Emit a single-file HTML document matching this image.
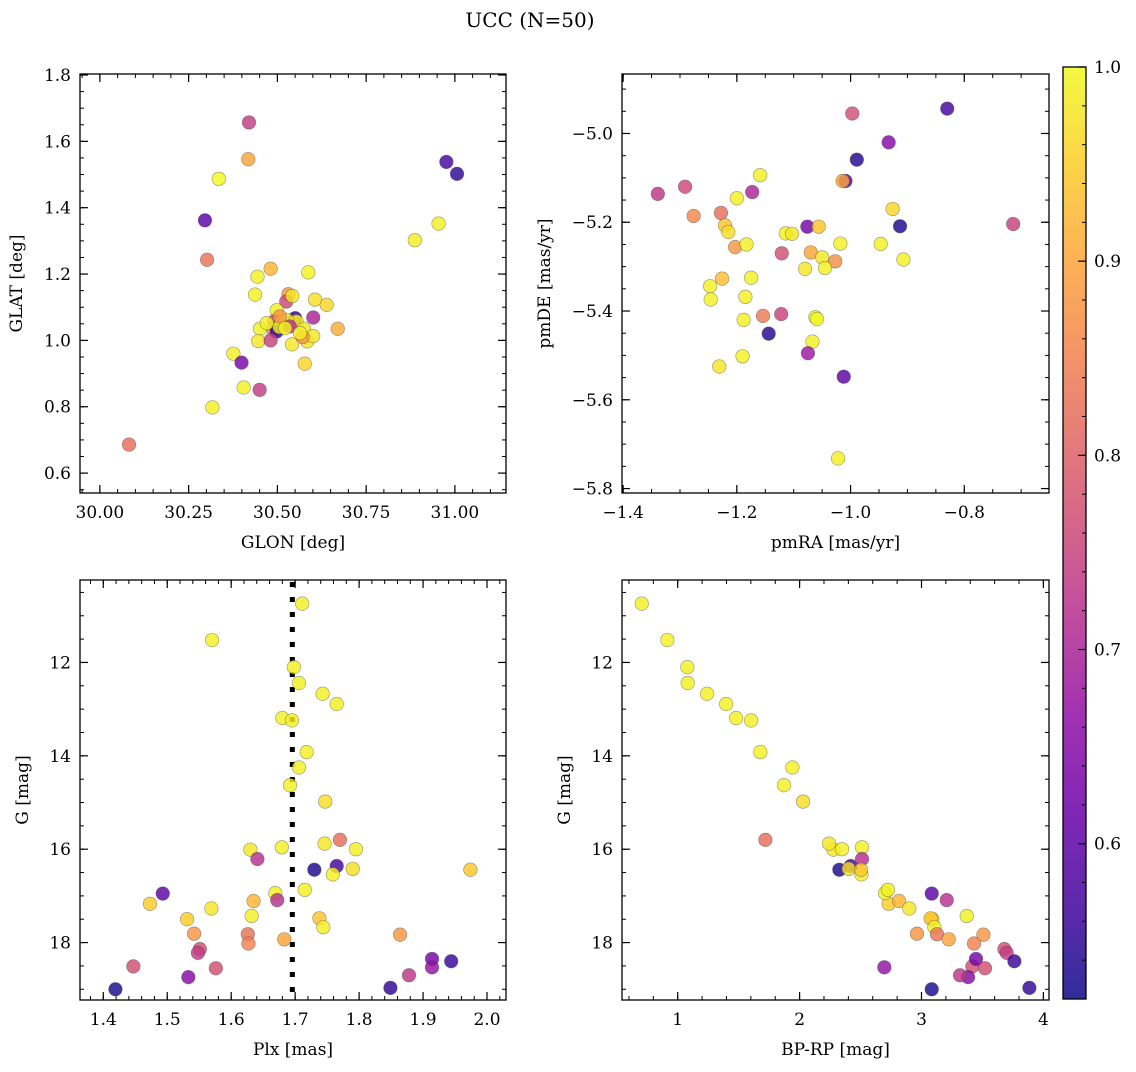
<!DOCTYPE html>
<html><head><meta charset="utf-8"><style>
body{margin:0;background:#fff}
svg text{font-family:"DejaVu Serif","Liberation Serif",serif;fill:#000}
</style></head><body>
<svg id="fig" width="1136" height="1067" viewBox="0 0 1136 1067" xmlns="http://www.w3.org/2000/svg">
<rect width="1136" height="1067" fill="#fff"/>
<text x="530" y="27" font-size="20" text-anchor="middle">UCC (N=50)</text>
</svg>
<script>
// ---- Panel 1: GLON / GLAT ----
const glon = [30.420,30.418,30.335,30.296,30.302,30.976,31.006,30.954,30.887,30.481,30.444,30.587,30.437,30.531,30.525,30.542,30.606,30.639,30.498,30.601,30.550,30.550,30.491,30.511,30.554,30.451,30.489,30.498,30.506,30.575,30.670,30.446,30.481,30.541,30.584,30.601,30.571,30.376,30.399,30.577,30.405,30.450,30.317,30.082,30.526,30.470,30.535,30.564,30.507,30.522];
const glat = [1.657,1.546,1.487,1.362,1.243,1.538,1.502,1.352,1.302,1.216,1.192,1.205,1.138,1.139,1.117,1.134,1.123,1.107,1.091,1.069,1.067,1.057,1.057,1.054,1.057,1.035,1.032,1.027,1.040,1.035,1.035,0.998,1.000,0.988,0.997,1.013,1.010,0.960,0.933,0.930,0.858,0.851,0.798,0.686,1.062,1.052,1.042,1.022,1.072,1.037];
const probP1 = [0.74,0.90,1.0,0.60,0.83,0.57,0.55,0.99,0.99,0.92,0.99,0.99,0.99,0.88,0.76,0.98,0.97,0.96,0.99,0.70,0.54,0.75,0.76,0.99,0.99,0.99,0.86,0.55,0.99,0.98,0.91,0.98,0.75,0.98,0.98,0.98,0.88,0.99,0.63,0.96,0.99,0.74,0.99,0.82,0.99,0.99,0.72,0.99,0.88,0.99];
// ---- Panel 2: pmRA / pmDE ----
const pmra = [-0.830,-0.997,-0.933,-0.989,-1.009,-1.014,-1.159,-1.173,-1.339,-1.291,-1.200,-0.926,-1.276,-1.228,-1.221,-1.215,-1.076,-1.056,-0.913,-0.714,-1.114,-1.103,-1.203,-1.183,-1.018,-0.947,-1.121,-1.070,-1.050,-1.027,-0.907,-1.080,-1.045,-1.226,-1.175,-1.247,-1.246,-1.185,-1.154,-1.122,-1.188,-1.062,-1.059,-1.144,-1.067,-1.075,-1.190,-1.231,-1.012,-1.022];
const pmde = [-4.944,-4.955,-5.020,-5.059,-5.107,-5.107,-5.094,-5.132,-5.136,-5.120,-5.146,-5.170,-5.186,-5.179,-5.207,-5.222,-5.210,-5.210,-5.209,-5.204,-5.225,-5.226,-5.256,-5.250,-5.248,-5.249,-5.270,-5.268,-5.279,-5.288,-5.284,-5.305,-5.303,-5.327,-5.325,-5.344,-5.374,-5.368,-5.411,-5.407,-5.420,-5.414,-5.418,-5.451,-5.469,-5.495,-5.502,-5.525,-5.548,-5.732];
const probP2 = [0.57,0.77,0.65,0.54,0.58,0.90,0.99,0.70,0.73,0.76,0.99,0.96,0.86,0.82,0.94,0.97,0.63,0.94,0.53,0.75,0.99,0.98,0.88,0.99,0.99,0.99,0.77,0.90,0.98,0.87,0.99,0.98,0.99,0.93,0.99,0.99,0.99,0.99,0.84,0.75,0.99,0.99,1.0,0.54,0.99,0.68,0.99,0.98,0.60,0.99];
// ---- Panels 3 & 4: per-star Plx, G, BP-RP ----
const plx = [1.711,1.570,1.698,1.706,1.743,1.765,1.680,1.695,1.718,1.706,1.692,1.747,1.770,1.630,1.679,1.746,1.795,1.641,1.730,1.765,1.759,1.790,1.974,1.493,1.473,1.669,1.672,1.635,1.715,1.569,1.531,1.632,1.738,1.744,1.542,1.626,1.627,1.683,1.864,1.551,1.548,1.447,1.576,1.533,1.419,1.849,1.878,1.914,1.914,1.944];
const gmag = [10.74,11.52,12.10,12.44,12.67,12.89,13.19,13.24,13.92,14.25,14.63,14.98,15.80,16.01,15.96,15.88,16.00,16.21,16.44,16.36,16.54,16.42,16.44,16.95,17.17,16.94,17.09,17.11,16.87,17.27,17.50,17.43,17.48,17.67,17.81,17.82,18.02,17.93,17.83,18.14,18.22,18.51,18.55,18.74,19.00,18.97,18.70,18.35,18.53,18.40];
const bprp = [0.705,0.915,1.079,1.082,1.241,1.397,1.479,1.602,1.678,1.941,1.872,2.028,1.719,2.277,2.512,2.241,2.348,2.512,2.326,2.419,2.507,2.403,2.504,3.084,2.731,2.701,3.207,2.816,2.725,2.900,3.089,3.371,3.075,3.106,2.963,3.127,3.431,3.223,3.508,3.680,3.699,3.417,3.521,3.382,3.084,3.885,3.316,3.447,2.695,3.762];
const probStar = [0.99,0.99,0.99,0.99,0.99,0.99,0.99,0.99,0.99,0.99,0.99,0.97,0.82,0.98,0.99,0.98,0.99,0.72,0.53,0.57,0.99,0.97,0.94,0.60,0.95,0.99,0.72,0.92,0.99,0.98,0.95,0.99,0.94,0.99,0.88,0.83,0.85,0.90,0.88,0.77,0.74,0.77,0.77,0.65,0.53,0.55,0.73,0.63,0.67,0.56];
const plxRef = 1.6956;
// ---- Colorbar ----
const cbTicks = [0.6,0.7,0.8,0.9,1.0];
const cbMin = 0.52, cbMax = 1.0;

const NS = "http://www.w3.org/2000/svg";
const svg = document.getElementById('fig');
function mk(tag, attrs, parent){ const e=document.createElementNS(NS,tag); for(const k in attrs) e.setAttribute(k,attrs[k]); (parent||svg).appendChild(e); return e; }

const plasma = [[13,8,135],[65,4,157],[106,0,168],[143,13,164],[177,42,144],[204,71,120],[225,100,98],[242,132,75],[252,166,54],[252,206,37],[240,249,33]];
function cmap(t){ t=Math.max(0,Math.min(1,t)); const f=t*10, i=Math.min(9,Math.floor(f)), u=f-i; const a=plasma[i], b=plasma[i+1]; return 'rgb('+a.map((v,k)=>Math.round(v+(b[k]-v)*u)).join(',')+')'; }
function fmt(v,d){ const s=Math.abs(v).toFixed(d); return (v<0?'\u2212':'')+s; }

function panel(cfg){
  const g = mk('g',{});
  
  
  const {x0,x1,y0,y1,xmin,xmax,ymin,ymax,inv} = cfg;
  const sx = v => x0 + (v-xmin)/(xmax-xmin)*(x1-x0);
  const sy = inv ? (v => y0 + (v-ymin)/(ymax-ymin)*(y1-y0)) : (v => y1 - (v-ymin)/(ymax-ymin)*(y1-y0));
  for(let v=Math.ceil(xmin/cfg.xminor-1e-6)*cfg.xminor; v<=xmax; v+=cfg.xminor){ const X=sx(v);
    mk('line',{x1:X,y1:y1,x2:X,y2:y1-4,stroke:'#000','stroke-width':1},g); mk('line',{x1:X,y1:y0,x2:X,y2:y0+4,stroke:'#000','stroke-width':1},g);}
  for(let v=Math.ceil(ymin/cfg.yminor-1e-6)*cfg.yminor; v<=ymax; v+=cfg.yminor){ const Y=sy(v);
    mk('line',{x1:x0,y1:Y,x2:x0+4,y2:Y,stroke:'#000','stroke-width':1},g); mk('line',{x1:x1,y1:Y,x2:x1-4,y2:Y,stroke:'#000','stroke-width':1},g);}
  cfg.xticks.forEach(v=>{ const X=sx(v);
    mk('line',{x1:X,y1:y1,x2:X,y2:y1-8,stroke:'#000','stroke-width':1.2},g); mk('line',{x1:X,y1:y0,x2:X,y2:y0+8,stroke:'#000','stroke-width':1.2},g);
    const t=mk('text',{x:X,y:y1+25,'font-size':17,'text-anchor':'middle'},g); t.textContent=fmt(v,cfg.xdec);
    
     });
  cfg.yticks.forEach(v=>{ const Y=sy(v);
    mk('line',{x1:x0,y1:Y,x2:x0+8,y2:Y,stroke:'#000','stroke-width':1.2},g); mk('line',{x1:x1,y1:Y,x2:x1-8,y2:Y,stroke:'#000','stroke-width':1.2},g);
    const t=mk('text',{x:x0-9,y:Y+6,'font-size':17,'text-anchor':'end'},g); t.textContent=fmt(v,cfg.ydec);
    
     });
  if(cfg.vline!==undefined){ const X=sx(cfg.vline);
    const l=mk('line',{x1:X,y1:y0+2,x2:X,y2:y1,stroke:'#000','stroke-width':5,'stroke-dasharray':'5 10'},g);
    
     }
  cfg.xs.forEach((xv,i)=>{
    const c=mk('circle',{cx:sx(xv),cy:sy(cfg.ys[i]),r:6.8,fill:cmap((cfg.p[i]-cbMin)/(cbMax-cbMin)),'fill-opacity':0.82,stroke:'rgba(70,70,70,0.55)','stroke-width':0.6},g);
    
     });
  const b=mk('rect',{x:x0,y:y0,width:x1-x0,height:y1-y0,fill:'none',stroke:'#000','stroke-width':1.3},g);
  
  
  const xl=mk('text',{x:(x0+x1)/2,y:y1+55,'font-size':17,'text-anchor':'middle'},g); xl.textContent=cfg.xlabel;
  
  
  const yx=cfg.ylx, yc=(y0+y1)/2;
  const yl=mk('text',{x:yx,y:yc,'font-size':17,'text-anchor':'middle',transform:'rotate(-90 '+yx+' '+yc+')'},g); yl.textContent=cfg.ylabel;
  
  
}

panel({name:'glon-glat-panel',x0:80,x1:506,y0:74,y1:493,xmin:29.944,xmax:31.144,ymin:0.540,ymax:1.803,xticks:[30.0,30.25,30.5,30.75,31.0],xdec:2,yticks:[0.6,0.8,1.0,1.2,1.4,1.6,1.8],ydec:1,xminor:0.05,yminor:0.05,xs:glon,ys:glat,p:probP1,xlabel:'GLON [deg]',ylabel:'GLAT [deg]',ylx:22});
panel({name:'proper-motion-panel',x0:622,x1:1049,y0:74,y1:493,xmin:-1.402,xmax:-0.651,ymin:-5.810,ymax:-4.866,xticks:[-1.4,-1.2,-1.0,-0.8],xdec:1,yticks:[-5.8,-5.6,-5.4,-5.2,-5.0],ydec:1,xminor:0.05,yminor:0.05,xs:pmra,ys:pmde,p:probP2,xlabel:'pmRA [mas/yr]',ylabel:'pmDE [mas/yr]',ylx:550});
panel({name:'parallax-magnitude-panel',x0:80,x1:506,y0:580,y1:1000,xmin:1.3636,xmax:2.0297,ymin:10.234,ymax:19.23,inv:true,xticks:[1.4,1.5,1.6,1.7,1.8,1.9,2.0],xdec:1,yticks:[12,14,16,18],ydec:0,xminor:0.02,yminor:0.5,xs:plx,ys:gmag,p:probStar,vline:plxRef,xlabel:'Plx [mas]',ylabel:'G [mag]',ylx:28});
panel({name:'color-magnitude-panel',x0:622,x1:1049,y0:580,y1:1000,xmin:0.543,xmax:4.046,ymin:10.234,ymax:19.23,inv:true,xticks:[1,2,3,4],xdec:0,yticks:[12,14,16,18],ydec:0,xminor:0.2,yminor:0.5,xs:bprp,ys:gmag,p:probStar,xlabel:'BP-RP [mag]',ylabel:'G [mag]',ylx:570});

(function(){
  const cx0=1063,cx1=1086,cy0=67,cy1=999;
  const g=mk('g',{});
  
  
  const defs=mk('defs',{},g);
  const lg=mk('linearGradient',{id:'pl',x1:0,y1:1,x2:0,y2:0},defs);
  for(let i=0;i<=10;i++) mk('stop',{offset:i/10,'stop-color':cmap(i/10),'stop-opacity':0.85},lg);
  mk('rect',{x:cx0,y:cy0,width:cx1-cx0,height:cy1-cy0,fill:'url(#pl)'},g);
  const sy=v=>cy1-(v-cbMin)/(cbMax-cbMin)*(cy1-cy0);
  for(let v=0.52; v<=1.0001; v+=0.02){ const Y=sy(v); mk('line',{x1:cx1,y1:Y,x2:cx1-4,y2:Y,stroke:'#000','stroke-width':1},g); }
  cbTicks.forEach(v=>{ const Y=sy(v);
    mk('line',{x1:cx1,y1:Y,x2:cx1-8,y2:Y,stroke:'#000','stroke-width':1.2},g);
    const t=mk('text',{x:cx1+8,y:Y+6,'font-size':17},g); t.textContent=v.toFixed(1);
    
     });
  mk('rect',{x:cx0,y:cy0,width:cx1-cx0,height:cy1-cy0,fill:'none',stroke:'#000','stroke-width':1.3},g);
})();
</script>
</body></html>
